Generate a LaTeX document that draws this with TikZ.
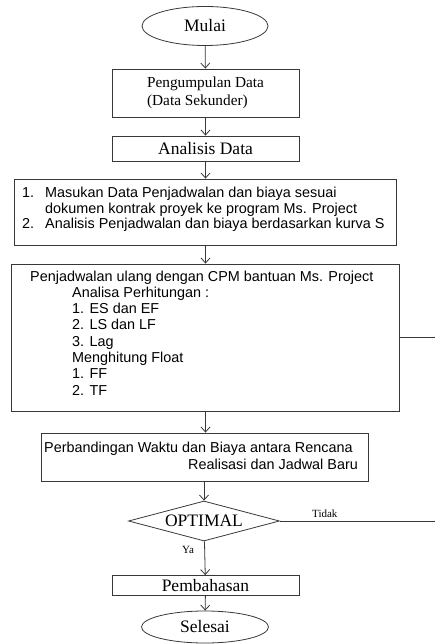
\documentclass[tikz,border=0pt]{standalone}
\usepackage{fontspec}
\setmainfont{Liberation Serif}
\newfontfamily\arialf{Liberation Sans}
\usetikzlibrary{shapes.geometric,arrows.meta}
\begin{document}
\begin{tikzpicture}[x=1pt,y=-1pt,
  ln/.style={draw=black!78, line width=0.8pt},
  arr/.style={ln, -{Straight Barb[length=5pt,width=9pt]}},
  boxs/.style={ln, rectangle, inner sep=0pt, align=center},
  ellip/.style={ln, ellipse, inner sep=0pt},
  big/.style={font=\fontsize{17.5}{20}\selectfont},
  sans/.style={font=\arialf\fontsize{14.4}{16.3}\selectfont, inner sep=0pt, anchor=base west},
  small/.style={font=\fontsize{11}{12}\selectfont, inner sep=0pt}
]
\useasboundingbox (0,0) rectangle (435,644);

% nodes
\node[ellip, big, minimum width=126pt, minimum height=39pt] (mulai) at (205,26) {Mulai};
\node[boxs, minimum width=187pt, minimum height=48pt, align=left,
      font=\fontsize{15.3}{18}\selectfont] (peng) at (205.5,93) {Pengumpulan Data\\(Data Sekunder)};
\node[boxs, big, minimum width=187pt, minimum height=25pt] (anal) at (205.5,148.5) {Analisis Data};

\node[boxs, minimum width=382pt, minimum height=66pt] (mas) at (205,212) {};
\node[sans] (m1n) at (22,197) {1.};
\node[sans] (m1a) at (45,197) {Masukan Data Penjadwalan dan biaya sesuai};
\node[sans] (m1b) at (45,213) {dokumen kontrak proyek ke program Ms. Project};
\node[sans] (m2n) at (22,229) {2.};
\node[sans] (m2a) at (45,229) {Analisis Penjadwalan dan biaya berdasarkan kurva S};

\node[boxs, minimum width=388pt, minimum height=147pt] (cpm) at (205,337.5) {};
\node[sans] (c1) at (30,281) {Penjadwalan ulang dengan CPM bantuan Ms. Project};
\node[sans] (c2) at (72,297.3) {Analisa Perhitungan :};
\node[sans] (c3) at (72,313.6) {1. ES dan EF};
\node[sans] (c4) at (72,329.9) {2. LS dan LF};
\node[sans] (c5) at (72,346.2) {3. Lag};
\node[sans] (c6) at (72,362.5) {Menghitung Float};
\node[sans] (c7) at (72,378.8) {1. FF};
\node[sans] (c8) at (72,395.1) {2. TF};

\node[boxs, minimum width=327pt, minimum height=48pt] (perb) at (204.5,457) {};
\node[sans] (p1) at (44,452) {Perbandingan Waktu dan Biaya antara Rencana};
\node[sans] (p2) at (188,469) {Realisasi dan Jadwal Baru};

\node[ln, diamond, big, inner sep=0pt, shape aspect=3.8, minimum width=151pt, minimum height=40pt] (opt) at (204,521) {OPTIMAL};
\node[boxs, big, minimum width=187pt, minimum height=20pt] (pemb) at (205.5,585.5) {Pembahasan};
\node[ellip, big, minimum width=127pt, minimum height=32pt] (sel) at (205,627) {Selesai};

\node[small, anchor=base west] (tidak) at (312,517) {Tidak};
\node[small, anchor=base west] (ya) at (182,553) {Ya};

\coordinate (cpmR) at (435,337.5);
\coordinate (optR) at (435,521);

% connectors
\draw[arr] (mulai) -- (peng);
\draw[arr] (peng) -- (anal);
\draw[arr] (anal.south) -- (anal.south |- mas.north);
\draw[arr] (mas.south -| anal.south) -- (anal.south |- cpm.north);
\draw[arr] (cpm.south -| anal.south) -- (anal.south |- perb.north);
\draw[arr] (perb.south -| opt.north) -- (opt.north);
\draw[arr] (opt) -- (pemb);
\draw[arr] (pemb) -- (sel);
\draw[ln] (cpm.east) -- (cpmR);
\draw[ln] (opt.east) -- (optR);
\end{tikzpicture}
\end{document}
